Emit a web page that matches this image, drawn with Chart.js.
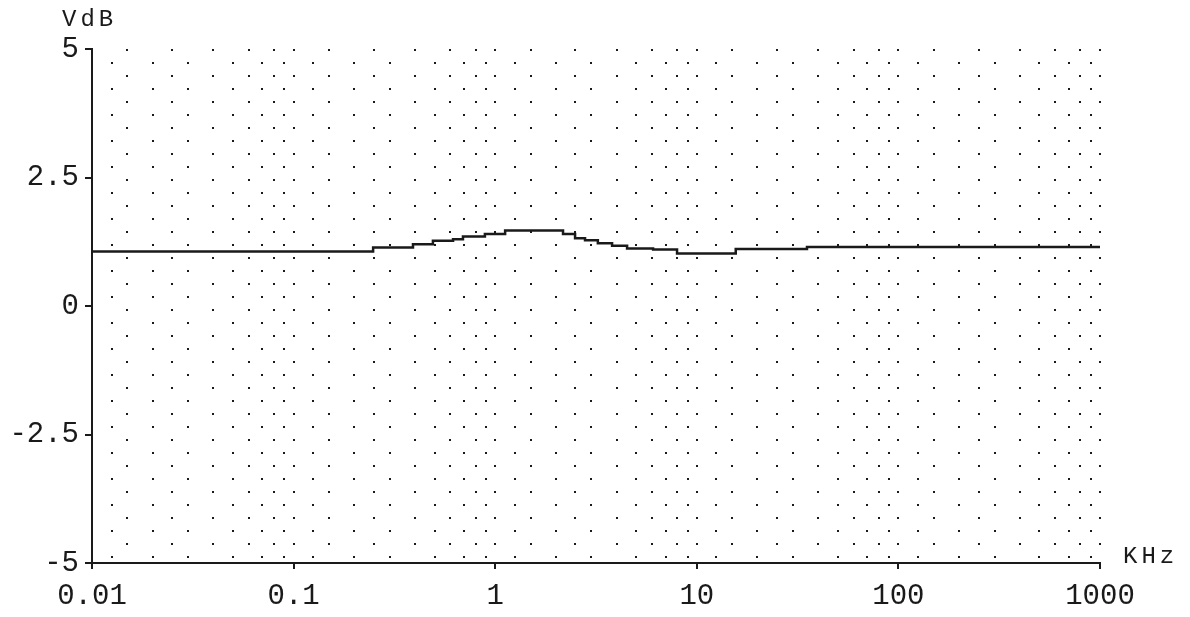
<!DOCTYPE html>
<html>
<head>
<meta charset="utf-8">
<script src="https://cdn.jsdelivr.net/npm/chart.js@4/dist/chart.umd.min.js"></script>
<style>
  html, body { margin: 0; padding: 0; background: #fff; }
  #chart { display: block; }
</style>
</head>
<body>
<canvas id="chart" width="1190" height="617"></canvas>
<script>
// response, one point per step start (KHz, dB)
const freqKHz = [0.01, 0.248, 0.391, 0.491, 0.618, 0.692, 0.889, 1.12, 2.17, 2.49, 2.79, 3.23, 3.80, 4.51, 6.07, 7.98, 15.6, 35.2, 1000];
const levelDb = [1.06, 1.14, 1.20, 1.27, 1.30, 1.35, 1.40, 1.47, 1.40, 1.32, 1.28, 1.22, 1.17, 1.12, 1.10, 1.02, 1.11, 1.15, 1.15];

const xDecades = [0.01, 0.1, 1, 10, 100, 1000];
const xTickLabels = ['0.01', '0.1', '1', '10', '100', '1000'];
const gridMantissas = [1, 1.25, 1.5, 2, 2.5, 3, 4, 5, 6, 7, 8, 9];
const yTicks = [-5, -2.5, 0, 2.5, 5];
const yTickLabels = ['-5', '-2.5', '0', '2.5', '5'];

const ink = '#1a1a1a';
const monoFont = "'Liberation Mono', 'DejaVu Sans Mono', monospace";

// dotted grid columns inside each decade
const xGridValues = [];
xDecades.slice(0, -1).forEach(d => {
  gridMantissas.forEach(m => xGridValues.push(+(d * m).toPrecision(4)));
});
xGridValues.push(1000);

const isDecade = v => xDecades.some(d => Math.abs(d - v) < d * 1e-6);

const unitLabels = {
  id: 'unitLabels',
  afterDraw(chart) {
    const { ctx, chartArea } = chart;
    ctx.save();
    ctx.fillStyle = ink;
    ctx.font = '24px ' + monoFont;
    ctx.letterSpacing = '4px';
    ctx.textBaseline = 'middle';
    ctx.textAlign = 'left';
    ctx.fillText('VdB', chartArea.left - 30, 20);
    ctx.fillText('KHz', chartArea.right + 23, chartArea.bottom - 6);
    ctx.restore();
  }
};

new Chart(document.getElementById('chart'), {
  type: 'scatter',
  data: {
    datasets: [{
      data: freqKHz.map((f, i) => ({ x: f, y: levelDb[i] })),
      showLine: true,
      stepped: 'before',
      borderColor: ink,
      borderWidth: 2.5,
      pointRadius: 0
    }]
  },
  options: {
    responsive: false,
    animation: false,
    layout: { padding: { top: 49, right: 90, left: 0, bottom: 0 } },
    plugins: { legend: { display: false }, tooltip: { enabled: false } },
    scales: {
      x: {
        type: 'logarithmic',
        min: 0.01,
        max: 1000,
        afterBuildTicks: scale => { scale.ticks = xGridValues.map(v => ({ value: v })); },
        afterFit: scale => { scale.height = 54; },
        ticks: {
          autoSkip: false,
          maxRotation: 0,
          padding: 10,
          color: ink,
          font: { family: monoFont, size: 29 },
          callback: v => {
            const i = xDecades.findIndex(d => Math.abs(d - v) < d * 1e-6);
            return i >= 0 ? xTickLabels[i] : '';
          }
        },
        grid: {
          color: ink,
          lineWidth: 2,
          tickLength: 6,
          tickWidth: 2,
          tickColor: c => (c.tick && isDecade(c.tick.value)) ? ink : 'rgba(0,0,0,0)',
          tickBorderDash: []
        },
        border: {
          color: ink,
          width: 2,
          dash: [2, 24],
          dashOffset: c => (c.index % 2 ? 13 : 0)
        }
      },
      y: {
        min: -5,
        max: 5,
        afterBuildTicks: scale => { scale.ticks = yTicks.map(v => ({ value: v })); },
        afterFit: scale => { scale.width = 92; },
        ticks: {
          padding: 6,
          color: ink,
          font: { family: monoFont, size: 29 },
          callback: v => yTickLabels[yTicks.indexOf(v)]
        },
        grid: {
          drawOnChartArea: false,
          color: ink,
          tickLength: 7,
          lineWidth: 2
        },
        border: { color: ink, width: 2 }
      }
    }
  },
  plugins: [unitLabels]
});
</script>
</body>
</html>
